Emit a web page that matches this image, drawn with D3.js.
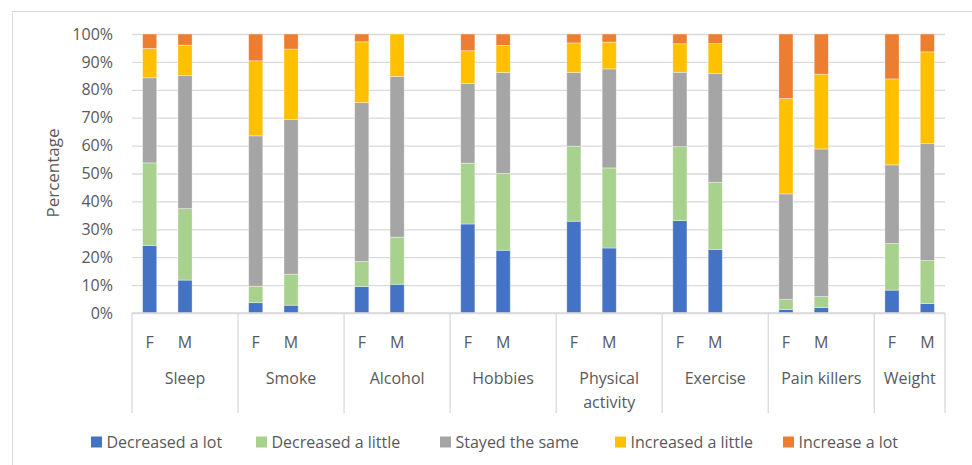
<!DOCTYPE html>
<html><head><meta charset="utf-8">
<script src="https://cdn.jsdelivr.net/npm/d3@7"></script>
<style>
body{margin:0;background:#fff;}
svg{display:block;font-family:"Open Sans","Segoe UI",sans-serif;}
</style></head>
<body><svg id="c" width="972" height="465"></svg>
<script>
const categories = ["Sleep","Smoke","Alcohol","Hobbies","Physical activity","Exercise","Pain killers","Weight"];
const sexes = ["F","M"];
const seriesNames = ["Decreased a lot","Decreased a little","Stayed the same","Increased a little","Increase a lot"];
const seriesColors = ["#4472C4","#A9D18E","#A5A5A5","#FFC000","#ED7D31"];
const yTicks = [0,0.1,0.2,0.3,0.4,0.5,0.6,0.7,0.8,0.9,1.0];
// values per bar in % (category order, F then M)
const decreasedALot   = [24.2,11.8, 3.7,2.8, 9.5,10.3, 31.9,22.5, 32.9,23.3, 33.1,22.8, 1.3,2.0, 8.2,3.4];
const decreasedALittle= [29.6,25.6, 5.9,11.1, 9.0,16.9, 21.8,27.5, 26.9,28.7, 26.5,24.0, 3.5,3.9, 16.7,15.4];
const stayedTheSame   = [30.5,47.7, 53.9,55.5, 56.9,57.6, 28.6,36.2, 26.4,35.5, 26.7,39.1, 37.9,52.9, 28.2,41.9];
const increasedALittle= [10.5,10.9, 26.9,25.2, 21.8,15.2, 11.7,9.7, 10.6,9.6, 10.2,10.7, 34.2,26.8, 30.8,32.9];
const increaseALot    = [5.2,4.0, 9.6,5.4, 2.8,0.0, 6.0,4.1, 3.2,2.9, 3.5,3.4, 23.1,14.4, 16.1,6.4];
const seriesValues = [decreasedALot,decreasedALittle,stayedTheSame,increasedALittle,increaseALot];

const svg = d3.select("#c");
const pL=132, pR=945, pT=34, pB=313;
const textCol="#595959", gridCol="#d9d9d9";
const fs="16px";

// chart border
svg.append("rect").attr("x",12.5).attr("y",11.5).attr("width",980).attr("height",480)
  .attr("fill","none").attr("stroke",gridCol).attr("stroke-width",1);

// slot domain: F, M and a blank slot per category (last category has none)
const slots=[];
categories.forEach((c,i)=>{
  sexes.forEach(s=>slots.push(c+"|"+s));
  if(i<categories.length-1) slots.push(c+"|_");
});
const x = d3.scaleBand().domain(slots).range([pL,pR]).padding(0);
const y = d3.scaleLinear().domain([0,1]).range([pB,pT]);

// gridlines + y labels
const ya = svg.append("g").attr("transform",`translate(${pL},0)`)
  .call(d3.axisLeft(y).tickValues(yTicks).tickFormat(d3.format(".0%")).tickSize(-(pR-pL)).tickPadding(19));
ya.select(".domain").remove();
ya.selectAll(".tick line").attr("stroke",gridCol).attr("stroke-width",1.3);
ya.selectAll(".tick text").attr("fill",textCol).style("font-size",fs).style("font-family","'Open Sans',sans-serif");

// bars
const bars=[];
categories.forEach((c,ci)=>sexes.forEach((s,si)=>{
  const idx=ci*2+si; let acc=0;
  seriesValues.forEach((arr,k)=>{
    const v=arr[idx]/100;
    bars.push({slot:c+"|"+s,y0:acc,y1:acc+v,k});
    acc+=v;
  });
}));
const bw = x.bandwidth()*0.4;
svg.append("g").selectAll("rect").data(bars.filter(d=>d.y1-d.y0>0)).join("rect")
  .attr("x",d=>x(d.slot)+x.bandwidth()/2-bw/2)
  .attr("width",bw)
  .attr("y",d=>y(Math.min(d.y1,1)))
  .attr("height",d=>y(d.y0)-y(Math.min(d.y1,1)))
  .attr("fill",d=>seriesColors[d.k])
  .attr("stroke","#ffffff").attr("stroke-opacity",0.5).attr("stroke-width",0.75);

// x axis line
svg.append("line").attr("x1",pL).attr("x2",pR).attr("y1",pB).attr("y2",pB)
  .attr("stroke",gridCol).attr("stroke-width",1.3);
// group separators
const bounds=[pL];
categories.forEach((c,i)=>{
  bounds.push(i<categories.length-1 ? x(c+"|_")+x.bandwidth() : pR);
});
svg.append("g").selectAll("line").data(bounds).join("line")
  .attr("x1",d=>d).attr("x2",d=>d).attr("y1",pB).attr("y2",413)
  .attr("stroke",gridCol).attr("stroke-width",1.3);

// F/M labels
svg.append("g").selectAll("text").data(slots.filter(s=>!s.endsWith("|_"))).join("text")
  .attr("x",d=>x(d)+x.bandwidth()/2).attr("y",347.5)
  .attr("text-anchor","middle").attr("fill",textCol).style("font-size",fs)
  .text(d=>d.split("|")[1]);

// category labels
categories.forEach((c,i)=>{
  const cx=(bounds[i]+bounds[i+1])/2;
  const words = c==="Physical activity" ? ["Physical","activity"] : [c];
  words.forEach((w,j)=>{
    svg.append("text").attr("x",cx).attr("y",384+j*24).attr("text-anchor","middle")
      .attr("fill",textCol).style("font-size",fs).text(w);
  });
});

// y title
svg.append("text").attr("transform","translate(59,173) rotate(-90)").attr("text-anchor","middle")
  .attr("fill",textCol).style("font-size","17px").text("Percentage");

// legend
const legX=[91,256,440,615,783];
const lg=svg.append("g").selectAll("g").data(seriesNames).join("g")
  .attr("transform",(d,i)=>`translate(${legX[i]},442)`);
lg.append("rect").attr("x",0).attr("y",-5.5).attr("width",11).attr("height",11).attr("fill",(d,i)=>seriesColors[i]);
lg.append("text").attr("x",15.5).attr("y",6).attr("fill",textCol).style("font-size",fs).text(d=>d);
</script></body></html>
